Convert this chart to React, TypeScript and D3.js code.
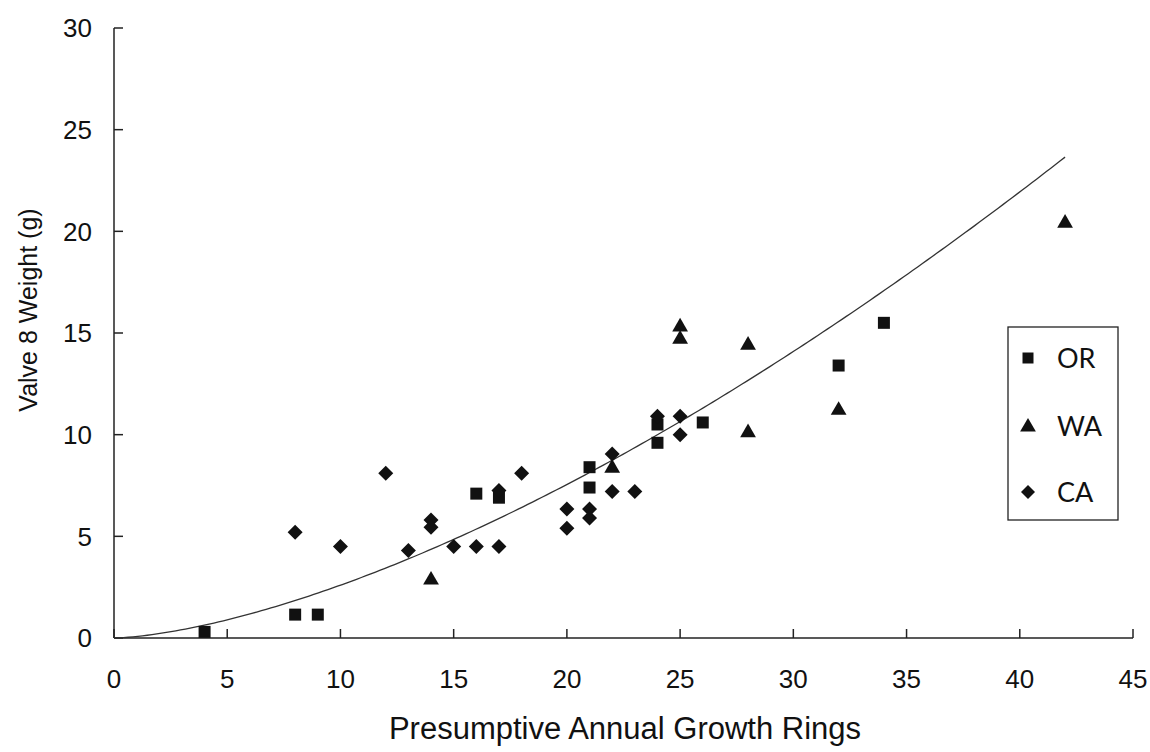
import React from "react";
import * as d3 from "d3";

// ---- Data ----
const orX = [4, 8, 9, 16, 17, 21, 21, 24, 24, 26, 32, 34];
const orY = [0.3, 1.15, 1.15, 7.1, 6.9, 8.4, 7.4, 9.6, 10.5, 10.6, 13.4, 15.5];

const waX = [14, 22, 25, 25, 28, 28, 32, 42];
const waY = [2.9, 8.4, 15.35, 14.75, 14.45, 10.15, 11.25, 20.45];

const caX = [8, 10, 12, 13, 14, 14, 15, 16, 17, 17, 18, 20, 20, 21, 21, 22, 22, 23, 24, 25, 25];
const caY = [5.2, 4.5, 8.1, 4.3, 5.8, 5.45, 4.5, 4.5, 4.5, 7.25, 8.1, 6.35, 5.4, 6.35, 5.9, 9.05, 7.2, 7.2, 10.9, 10.9, 10.0];

// power trendline y = a * x^b (fit)
const trendA = 0.0751;
const trendB = 1.539;
const trendRange = [0, 42];

const xTicks = [0, 5, 10, 15, 20, 25, 30, 35, 40, 45];
const yTicks = [0, 5, 10, 15, 20, 25, 30];
const seriesNames = ["OR", "WA", "CA"];

const W = 1150;
const H = 752;
const x = d3.scaleLinear().domain([0, 45]).range([114, 1133]);
const y = d3.scaleLinear().domain([0, 30]).range([638, 28]);

const sq = d3.symbol().type(d3.symbolSquare);
const tri = d3.symbol().type(d3.symbolTriangle);
const dia = (s: number) =>
  `M0,${-s}L${s},0L0,${s}L${-s},0Z`;

const tickFont = "'Liberation Sans', Arial, sans-serif";

export default function App() {
  const trendPts: [number, number][] = d3
    .range(0, 201)
    .map((i) => trendRange[0] + ((trendRange[1] - trendRange[0]) * i) / 200)
    .map((v) => [v, trendA * Math.pow(v, trendB)]);
  const line = d3
    .line<[number, number]>()
    .x((d) => x(d[0]))
    .y((d) => y(d[1]));

  const ink = "#111";
  const legendX = 1008;
  const legendY = 327;
  const legendRows = [358, 426, 492];

  const marker = (k: number, cx: number, cy: number, size: number) => {
    if (k === 0)
      return <path key={`m${k}-${cx}-${cy}`} d={sq.size(size * size)()!} transform={`translate(${cx},${cy})`} fill={ink} />;
    if (k === 1)
      return (
        <path
          key={`m${k}-${cx}-${cy}`}
          d={tri.size(size * size * 0.55)()!}
          transform={`translate(${cx},${cy + 1})`}
          fill={ink}
        />
      );
    return <path key={`m${k}-${cx}-${cy}`} d={dia(size / 2)} transform={`translate(${cx},${cy})`} fill={ink} />;
  };

  return (
    <div style={{ position: "absolute", left: 0, top: 0 }}>
      <svg width={W} height={H} style={{ display: "block", background: "#fff" }}>
        <rect x={0} y={0} width={W} height={H} fill="#fff" />
        {/* axes */}
        <line x1={x(0)} x2={x(0)} y1={y(30)} y2={y(0)} stroke="#222" strokeWidth={1.5} />
        <line x1={x(0)} x2={x(45)} y1={y(0)} y2={y(0)} stroke="#222" strokeWidth={1.5} />
        {yTicks.map((t) => (
          <g key={`yt${t}`}>
            <line x1={x(0)} x2={x(0) + 9} y1={y(t)} y2={y(t)} stroke="#222" strokeWidth={1.5} />
            <text
              x={92}
              y={y(t)}
              dy="0.36em"
              textAnchor="end"
              fontFamily={tickFont}
              fontSize={26}
              fill={ink}
            >
              {t}
            </text>
          </g>
        ))}
        {xTicks.map((t) => (
          <g key={`xt${t}`}>
            <line x1={x(t)} x2={x(t)} y1={y(0)} y2={y(0) - 9} stroke="#222" strokeWidth={1.5} />
            <text x={x(t)} y={688} textAnchor="middle" fontFamily={tickFont} fontSize={26} fill={ink}>
              {t}
            </text>
          </g>
        ))}
        {/* axis titles */}
        <text
          x={625}
          y={739}
          textAnchor="middle"
          fontFamily={tickFont}
          fontSize={31}
          fill={ink}
        >
          Presumptive Annual Growth Rings
        </text>
        <text
          transform={`translate(37,310) rotate(-90)`}
          textAnchor="middle"
          fontFamily={tickFont}
          fontSize={25}
          fill={ink}
        >
          Valve 8 Weight (g)
        </text>

        {/* trend line */}
        <path d={line(trendPts) || ""} fill="none" stroke="#333" strokeWidth={1.3} />

        {/* points */}
        {orX.map((v, i) => marker(0, x(v), y(orY[i]), 12))}
        {waX.map((v, i) => marker(1, x(v), y(waY[i]), 14))}
        {caX.map((v, i) => marker(2, x(v), y(caY[i]), 15))}

        {/* legend */}
        <rect x={legendX} y={legendY} width={110} height={193} fill="#fff" stroke="#222" strokeWidth={1.3} />
        {seriesNames.map((n, k) => (
          <g key={n}>
            {marker(k, 1028, legendRows[k], k === 0 ? 11 : 14)}
            <text
              x={1057}
              y={legendRows[k]}
              dy="0.36em"
              fontFamily="Lato, 'Open Sans', sans-serif"
              fontSize={27}
              fill={ink}
            >
              {n}
            </text>
          </g>
        ))}
      </svg>
    </div>
  );
}
